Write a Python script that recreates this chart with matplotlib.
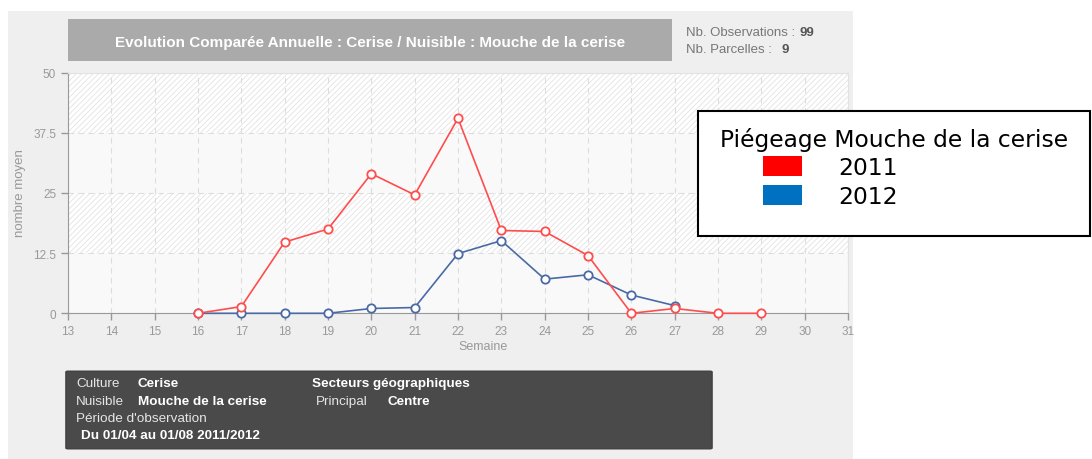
import matplotlib.pyplot as plt
from matplotlib.patches import Rectangle, FancyBboxPatch

# semaines et valeurs
weeks_2011 = [16, 17, 18, 19, 20, 21, 22, 23, 24, 25, 26, 27, 28, 29]
values_2011 = [0, 1.4, 14.8, 17.5, 29.0, 24.6, 40.5, 17.2, 17.0, 12.0, 0, 1.0, 0, 0]
weeks_2012 = [16, 17, 18, 19, 20, 21, 22, 23, 24, 25, 26, 27]
values_2012 = [0, 0, 0, 0, 1.0, 1.2, 12.4, 15.1, 7.1, 8.0, 3.8, 1.6]
x_ticks = list(range(13, 32))
y_ticks = [0, 12.5, 25, 37.5, 50]
y_tick_labels = ['0', '12.5', '25', '37.5', '50']
legend_labels = ['2011', '2012']

W, H = 1092, 460


def fx(x):
    return x / W


def fy(y):
    return 1 - y / H


def box(x0, y0, x1, y1, **kw):
    return Rectangle((fx(x0), fy(y1)), (x1 - x0) / W, (y1 - y0) / H,
                     transform=fig.transFigure, **kw)


plt.rcParams['font.family'] = ['Liberation Sans', 'DejaVu Sans']
plt.rcParams['hatch.linewidth'] = 0.6

fig = plt.figure(figsize=(W / 100, H / 100), dpi=100)
fig.patch.set_facecolor('white')

# panneau gris
fig.add_artist(box(8, 12, 853, 460, facecolor='#efefef', edgecolor='none', zorder=0))

# bandeau titre
fig.add_artist(box(68, 20, 672, 62, facecolor='#aaaaaa', edgecolor='none', zorder=1))
fig.text(fx(370), fy(43), 'Evolution Comparée Annuelle : Cerise / Nuisible : Mouche de la cerise',
         color='white', fontsize=11, fontweight='bold', ha='center', va='center')

# infos en haut à droite
fig.text(fx(686), fy(33), 'Nb. Observations :', color='#777777', fontsize=9.5, va='center')
fig.text(fx(799), fy(33), '99', color='#555555', fontsize=9.5, fontweight='bold', va='center')
fig.text(fx(686), fy(50), 'Nb. Parcelles :', color='#777777', fontsize=9.5, va='center')
fig.text(fx(782), fy(50), '9', color='#555555', fontsize=9.5, fontweight='bold', va='center')

# zone de tracé
ax = fig.add_axes([fx(68), fy(314.3), (848 - 68) / W, (314.3 - 73.6) / H])
ax.set_facecolor('white')
for lo, hi, hatched in [(0, 12.5, False), (12.5, 25, True), (25, 37.5, False), (37.5, 50, True)]:
    if hatched:
        ax.axhspan(lo, hi, facecolor='white', edgecolor='#e3e3e3', hatch='//////', lw=0, zorder=0)
    else:
        ax.axhspan(lo, hi, facecolor='#f9f9f9', edgecolor='none', lw=0, zorder=0)

ax.set_xlim(13, 31)
ax.set_ylim(0, 50)
ax.set_xticks(x_ticks)
ax.set_yticks(y_ticks)
ax.set_yticklabels(y_tick_labels)
ax.grid(True, color='#dddddd', linestyle=(0, (5, 4)), lw=0.8, zorder=1)
ax.set_axisbelow(True)
ax.tick_params(colors='#999999', labelcolor='#999999', labelsize=8.5, length=5, width=1)
for side in ['left', 'bottom']:
    ax.spines[side].set_color('#999999')
for side in ['top', 'right']:
    ax.spines[side].set_color('#e2e2e2')

ax.plot(weeks_2011, values_2011, color='#ff4d4d', lw=1.2, marker='o', ms=6,
        mfc='white', mec='#ff4d4d', mew=1.3, clip_on=False, zorder=5)
ax.plot(weeks_2012, values_2012, color='#4a6aa5', lw=1.2, marker='o', ms=6,
        mfc='white', mec='#4a6aa5', mew=1.3, clip_on=False, zorder=4)

fig.text(fx(483), fy(347), 'Semaine', color='#999999', fontsize=9, ha='center', va='center')
fig.text(fx(20), fy(193), 'nombre moyen', color='#999999', fontsize=9.5,
         rotation=90, ha='center', va='center')

# encadré du bas
fig.add_artist(FancyBboxPatch((fx(68), fy(449)), (710 - 68) / W, (449 - 373) / H,
                              boxstyle='round,pad=0.002', transform=fig.transFigure,
                              facecolor='#4a4a4a', edgecolor='#3a3a3a', lw=0.8, zorder=1))
light = '#e6e6e6'
fs = 9.7
fig.text(fx(76), fy(384), 'Culture', color=light, fontsize=fs, va='center')
fig.text(fx(138), fy(384), 'Cerise', color='white', fontsize=fs, fontweight='bold', va='center')
fig.text(fx(312), fy(384), 'Secteurs géographiques', color='white', fontsize=fs, fontweight='bold', va='center')
fig.text(fx(76), fy(402), 'Nuisible', color=light, fontsize=fs, va='center')
fig.text(fx(138), fy(402), 'Mouche de la cerise', color='white', fontsize=fs, fontweight='bold', va='center')
fig.text(fx(316), fy(402), 'Principal', color=light, fontsize=fs, va='center')
fig.text(fx(387), fy(402), 'Centre', color='white', fontsize=fs, fontweight='bold', va='center')
fig.text(fx(76), fy(419), "Période d'observation", color=light, fontsize=fs, va='center')
fig.text(fx(81), fy(436), 'Du 01/04 au 01/08 2011/2012', color='white', fontsize=fs,
         fontweight='bold', va='center')

# légende
fig.add_artist(box(698, 112, 1090, 237, facecolor='white', edgecolor='black', lw=1.5, zorder=10))
fig.text(fx(720), fy(147), 'Piégeage Mouche de la cerise', family='DejaVu Sans',
         fontsize=16.8, va='baseline', zorder=11)
for i, (lab, col) in enumerate(zip(legend_labels, ['#ff0000', '#0070c0'])):
    y0 = 157 + i * 29
    fig.add_artist(box(763, y0, 802, y0 + 20, facecolor=col, edgecolor='none', zorder=11))
    fig.text(fx(838), fy(y0 + 18), lab, family='DejaVu Sans', fontsize=16.8,
             va='baseline', zorder=11)

fig.savefig('out.png', dpi=100)
